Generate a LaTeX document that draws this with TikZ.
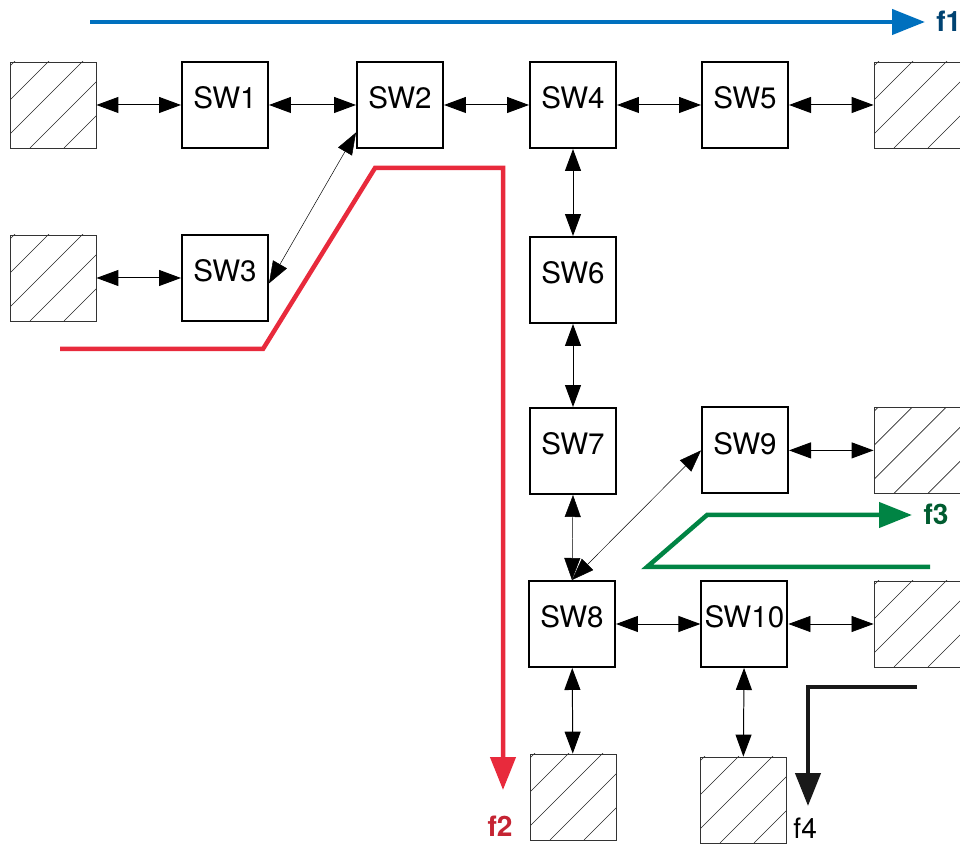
\documentclass[tikz,border=0pt]{standalone}
\usepackage{fontspec}
\setmainfont{TeX Gyre Heros}
\usetikzlibrary{arrows.meta, calc}
\definecolor{flowblue}{RGB}{0,112,190}
\definecolor{flowred}{RGB}{232,42,60}
\definecolor{flowgreen}{RGB}{0,132,68}
\tikzset{
    sw/.style={draw, line width=1.4pt, minimum size=2.15cm, inner sep=0pt, text height=0.5cm, text depth=0.3cm, font=\fontsize{21}{25}\selectfont},
    host/.style={draw=black!80, line width=0.6pt, minimum size=2.15cm, inner sep=0pt,
        path picture={
            \foreach \k in {-2.9,-2.05,...,2.3}
                \draw[line width=0.45pt, black!85] ($(path picture bounding box.south west)+(\k,0)$) -- ++(2.6,2.6);
        }},
    lnk/.style={{Triangle[length=0.55cm,width=0.4cm]}-{Triangle[length=0.55cm,width=0.4cm]}, line width=0.7pt},
    thinlnk/.style={lnk, line width=0.35pt},
    flow/.style={line width=3.2pt, -{Triangle[length=0.82cm,width=0.62cm]}},
    flowlbl/.style={font=\fontsize{20}{24}\selectfont\bfseries}
}
\begin{document}
\begin{tikzpicture}
    \useasboundingbox (0,0) rectangle (24,21.2);

    % switches
    \node[sw] (sw1) at (5.625,18.575) {SW1};
    \node[sw] (sw2) at (10.0,18.575) {SW2};
    \node[sw] (sw4) at (14.325,18.575) {SW4};
    \node[sw] (sw5) at (18.625,18.575) {SW5};
    \node[sw] (sw3) at (5.625,14.25) {SW3};
    \node[sw] (sw6) at (14.325,14.2) {SW6};
    \node[sw] (sw7) at (14.325,9.925) {SW7};
    \node[sw] (sw9) at (18.625,9.94) {SW9};
    \node[sw] (sw8) at (14.3,5.6) {SW8};
    \node[sw] (sw10) at (18.61,5.6) {SW10};

    % end hosts
    \node[host] (h1) at (1.325,18.575) {};
    \node[host] (h3) at (1.325,14.25) {};
    \node[host] (h5) at (22.925,18.575) {};
    \node[host] (h9) at (22.925,9.94) {};
    \node[host] (h10) at (22.925,5.6) {};
    \node[host] (h8) at (14.325,1.275) {};
    \node[host] (h11) at (18.575,1.2) {};

    % links
    \draw[lnk] (h1) -- (sw1);
    \draw[lnk] (sw1) -- (sw2);
    \draw[lnk] (sw2) -- (sw4);
    \draw[lnk] (sw4) -- (sw5);
    \draw[lnk] (sw5) -- (h5);
    \draw[lnk] (h3) -- (sw3);
    \draw[thinlnk] (sw3.-7) -- (sw2.212);
    \draw[lnk] (sw4) -- (sw6);
    \draw[lnk] (sw6) -- (sw7);
    \draw[thinlnk] (sw7.south) -- (sw8.north);
    \draw[thinlnk] (sw8.north) -- (sw9.west);
    \draw[lnk] (sw9) -- (h9);
    \draw[lnk] (sw8) -- (sw10);
    \draw[lnk, line width=0.5pt] (sw10) -- (h10);
    \draw[lnk] (sw8) -- (h8);
    \draw[lnk] (sw10) -- (h11);

    % flows
    \coordinate (f1s) at (2.25,20.65);
    \coordinate (f1e) at (23.125,20.65);
    \draw[flow, flowblue] (f1s) -- (f1e);
    \node[flowlbl, text=flowblue!60!black] (f1) at (23.72,20.68) {f1};

    \coordinate (f2s) at (1.5,12.475);
    \coordinate (f2a) at (6.575,12.475);
    \coordinate (f2b) at (9.375,17.0);
    \coordinate (f2c) at (12.575,17.0);
    \coordinate (f2e) at (12.575,1.45);
    \draw[flow, flowred] (f2s) -- (f2a) -- (f2b) -- (f2c) -- (f2e);
    \node[flowlbl, text=flowred!85!black] (f2) at (12.5,0.55) {f2};

    \coordinate (f3s) at (23.25,7.025);
    \coordinate (f3a) at (16.175,7.025);
    \coordinate (f3b) at (17.675,8.325);
    \coordinate (f3e) at (22.8,8.325);
    \draw[flow, flowgreen] (f3s) -- (f3a) -- (f3b) -- (f3e);
    \node[flowlbl, text=flowgreen!70!black] (f3) at (23.4,8.33) {f3};

    \coordinate (f4s) at (22.925,4.025);
    \coordinate (f4a) at (20.2,4.025);
    \coordinate (f4e) at (20.2,1.05);
    \draw[flow, black!90] (f4s) -- (f4a) -- (f4e);
    \node[font=\fontsize{20}{24}\selectfont] (f4) at (20.13,0.5) {f4};
\end{tikzpicture}
\end{document}
